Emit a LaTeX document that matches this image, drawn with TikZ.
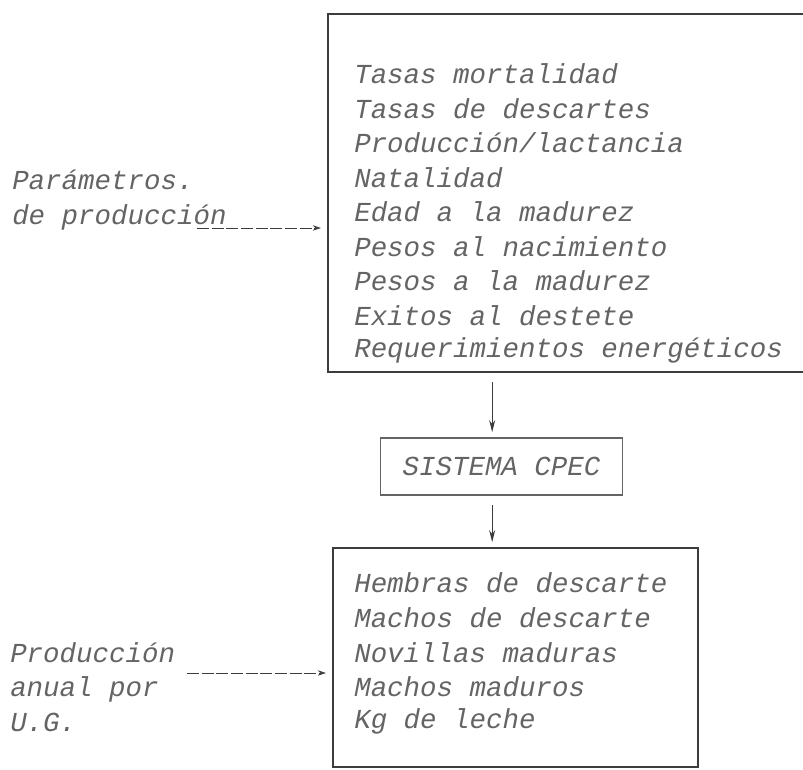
\documentclass[tikz,border=0pt]{standalone}
\usepackage{fontspec}
\newfontfamily\typer{Liberation Mono}
\usetikzlibrary{arrows}
\usetikzlibrary{arrows.meta}
\usetikzlibrary{positioning}
\definecolor{ink}{RGB}{100,100,100}
\definecolor{rule}{RGB}{60,60,60}

\begin{document}
\begin{tikzpicture}[x=0.75pt,y=-0.75pt]
  \tikzstyle{type} = [color=ink, font=\typer\itshape\fontsize{20.6}{25.9}\selectfont]
  \tikzstyle{item} = [type, anchor=west, inner sep=0pt]
  \tikzstyle{box} = [draw=rule, line width=0.8pt]
  \tikzstyle{feed} = [-{Stealth[length=6pt,width=4pt]}, draw=rule, dash pattern=on 9pt off 2pt, shorten >=5pt]
  \tikzstyle{drop} = [-{Stealth[length=9pt,width=4.5pt]}, draw=rule, line width=0.9pt, shorten <=7pt, shorten >=4pt]

  \clip (0,0) rectangle (803,770);

  % Boxes
  \node[box, minimum width=384pt, minimum height=268.5pt] (inputs) at (584,193) {};
  \node[box, type, minimum width=182pt, minimum height=42.75pt] (sys) at (501.5,466.5) {SISTEMA CPEC};
  \node[box, minimum width=273.75pt, minimum height=164.25pt] (outputs) at (515.5,657.5) {};

  % Parameters in, results out
  \foreach \i / \txt in {0/Tasas mortalidad, 1/Tasas de descartes, 2/{Producción/lactancia},
      3/Natalidad, 4/Edad a la madurez, 5/Pesos al nacimiento, 6/Pesos a la madurez,
      7/Exitos al destete, 8/Requerimientos energéticos}
    \node[item] (in\i) at (354, 74 + \i * 34.5) {\txt};

  \foreach \i / \txt in {0/Hembras de descarte, 1/Machos de descarte, 2/Novillas maduras,
      3/Machos maduros, 4/Kg de leche}
    \node[item] (out\i) at (354, 583 + \i * 34.7) {\txt};

  % Side labels
  \node[item, align=left] (params) at (12,200) {Parámetros.\\de producción};
  \node[item, align=left] (annual) at (10,687) {Producción\\anual por\\U.G.};

  % Edges
  \coordinate (pin) at (197,228);
  \coordinate (uin) at (187,673);
  \draw[feed] (pin) -- (pin -| inputs.west);
  \draw[feed] (uin) -- (uin -| outputs.west);
  \draw[drop] ([xshift=-7pt]sys.north |- inputs.south) -- ([xshift=-7pt]sys.north);
  \draw[drop] ([xshift=-7pt]sys.south) -- ([xshift=-7pt]sys.south |- outputs.north);

\end{tikzpicture}
\end{document}
